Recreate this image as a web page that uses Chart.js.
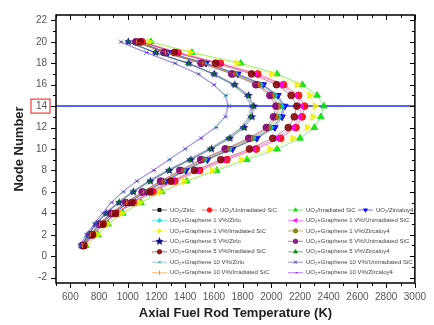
<!DOCTYPE html>
<html>
<head>
<meta charset="utf-8">
<script src="https://cdn.jsdelivr.net/npm/chart.js@4/dist/chart.umd.min.js"></script>
<style>
  html, body { margin: 0; padding: 0; background: #fff; }
  #temps { display: block; }
</style>
</head>
<body>
<canvas id="temps" width="434" height="325"></canvas>
<script>
// axial nodes (bottom to top)
const nodes = [1, 2, 3, 4, 5, 6, 7, 8, 9, 10, 11, 12, 13, 14, 15, 16, 17, 18, 19, 20];

// fuel rod temperature per node (K)
const tUO2Zirlo        = [688, 742, 810, 895, 1003, 1122, 1255, 1395, 1545, 1718, 1888, 2012, 2064, 2085, 2038, 1935, 1758, 1538, 1272, 1066];
const tUO2UnirrSiC     = [698, 762, 838, 928, 1045, 1176, 1328, 1500, 1690, 1895, 2065, 2172, 2215, 2232, 2190, 2085, 1905, 1645, 1350, 1100];
const tUO2IrrSiC       = [710, 792, 862, 966, 1092, 1236, 1410, 1620, 1830, 2040, 2200, 2300, 2345, 2366, 2319, 2217, 2040, 1787, 1447, 1160];
const tUO2Zry4         = [690, 745, 815, 900, 1010, 1130, 1265, 1405, 1555, 1730, 1900, 2025, 2075, 2094, 2046, 1944, 1767, 1545, 1280, 1072];
const tG1Zirlo         = [686, 740, 806, 890, 996, 1115, 1246, 1384, 1532, 1705, 1872, 1996, 2050, 2070, 2024, 1922, 1748, 1528, 1265, 1060];
const tG1UnirrSiC      = [696, 758, 832, 920, 1035, 1165, 1312, 1482, 1670, 1872, 2040, 2150, 2195, 2212, 2170, 2066, 1888, 1630, 1338, 1094];
const tG1IrrSiC        = [705, 786, 854, 956, 1080, 1222, 1392, 1590, 1790, 1990, 2150, 2250, 2290, 2305, 2268, 2180, 2003, 1760, 1435, 1147];
const tG1Zry4          = [684, 737, 802, 884, 990, 1106, 1236, 1372, 1518, 1690, 1855, 1978, 2030, 2048, 2004, 1905, 1735, 1518, 1258, 1058];
const tG5Zirlo         = [680, 725, 780, 850, 940, 1040, 1158, 1290, 1440, 1583, 1712, 1812, 1866, 1878, 1842, 1746, 1603, 1426, 1195, 1004];
const tG5UnirrSiC      = [683, 736, 800, 880, 985, 1100, 1228, 1362, 1508, 1678, 1842, 1965, 2015, 2032, 1990, 1892, 1724, 1510, 1252, 1056];
const tG5IrrSiC        = [694, 755, 828, 914, 1028, 1155, 1300, 1465, 1648, 1848, 2010, 2118, 2160, 2178, 2138, 2036, 1862, 1612, 1325, 1088];
const tG5Zry4          = [679, 723, 777, 846, 935, 1034, 1150, 1282, 1430, 1572, 1700, 1800, 1855, 1868, 1832, 1738, 1596, 1420, 1190, 1001];
const tG10Zirlo        = [668, 712, 768, 825, 885, 968, 1062, 1180, 1290, 1400, 1510, 1615, 1680, 1705, 1682, 1600, 1492, 1328, 1130, 950];
const tG10UnirrSiC     = [677, 721, 774, 842, 930, 1028, 1142, 1272, 1420, 1562, 1690, 1790, 1845, 1858, 1822, 1728, 1588, 1412, 1184, 998];
const tG10IrrSiC       = [685, 739, 804, 887, 993, 1110, 1240, 1378, 1525, 1698, 1862, 1985, 2038, 2055, 2012, 1912, 1740, 1522, 1262, 1062];
const tG10Zry4         = [666, 710, 765, 822, 882, 964, 1058, 1174, 1284, 1394, 1503, 1608, 1674, 1700, 1676, 1594, 1486, 1322, 1124, 945];

const xTickValues = [600, 800, 1000, 1200, 1400, 1600, 1800, 2000, 2200, 2400, 2600, 2800, 3000];
const yTickValues = [-2, 0, 2, 4, 6, 8, 10, 12, 14, 16, 18, 20, 22];
const markedNode = 14;

function rgba(hex, a) {
  const n = parseInt(hex.slice(1), 16);
  return `rgba(${n >> 16},${(n >> 8) & 255},${n & 255},${a})`;
}

// filled five point star, used as a point image
function starMarker(color, r) {
  const c = document.createElement('canvas');
  c.width = c.height = Math.ceil(2 * r + 2);
  const g = c.getContext('2d');
  const cx = c.width / 2, cy = c.height / 2;
  g.beginPath();
  for (let i = 0; i < 10; i++) {
    const rad = i % 2 ? r * 0.45 : r;
    const a = -Math.PI / 2 + i * Math.PI / 5;
    g.lineTo(cx + rad * Math.cos(a), cy + rad * Math.sin(a));
  }
  g.closePath();
  g.fillStyle = color;
  g.fill();
  return c;
}

const series = [
  { label: 'UO₂/Zirlo', temps: tUO2Zirlo, color: '#000000', style: 'rect', r: 2.6 },
  { label: 'UO₂/Unirradiated SiC', temps: tUO2UnirrSiC, color: '#ff0000', style: 'circle', r: 3.4 },
  { label: 'UO₂/Irradiated SiC', temps: tUO2IrrSiC, color: '#00e000', style: 'triangle', r: 3.8 },
  { label: 'UO₂/Zircaloy4', temps: tUO2Zry4, color: '#0000ff', style: 'triangle', rot: 180, r: 3.8 },
  { label: 'UO₂+Graphene 1 V%/Zirlo', temps: tG1Zirlo, color: '#00e0e0', style: 'rectRot', r: 3.2 },
  { label: 'UO₂+Graphene 1 V%/Unirradiated SiC', temps: tG1UnirrSiC, color: '#ff00ff', style: 'triangle', rot: 270, r: 3.4 },
  { label: 'UO₂+Graphene 1 V%/Irradiated SiC', temps: tG1IrrSiC, color: '#f0f000', style: 'triangle', rot: 90, r: 3.8 },
  { label: 'UO₂+Graphene 1 V%/Zircaloy4', temps: tG1Zry4, color: '#808000', style: 'circle', r: 3.2 },
  { label: 'UO₂+Graphene 5 V%/Zirlo', temps: tG5Zirlo, color: '#000080', style: 'star', r: 4.4 },
  { label: 'UO₂+Graphene 5 V%/Unirradiated SiC', temps: tG5UnirrSiC, color: '#800080', style: 'circle', r: 3.4 },
  { label: 'UO₂+Graphene 5 V%/Irradiated SiC', temps: tG5IrrSiC, color: '#800000', style: 'circle', r: 3.4 },
  { label: 'UO₂+Graphene 5 V%/Zircaloy4', temps: tG5Zry4, color: '#008000', style: 'triangle', r: 2.4 },
  { label: 'UO₂+Graphene 10 V%/Zirlo', temps: tG10Zirlo, color: '#40a0a0', style: 'crossRot', r: 3.2 },
  { label: 'UO₂+Graphene 10 V%/Unirradiated SiC', temps: tG10UnirrSiC, color: '#3030c0', style: 'crossRot', r: 2.2 },
  { label: 'UO₂+Graphene 10 V%/Irradiated SiC', temps: tG10IrrSiC, color: '#ff8000', style: 'line', rot: 90, r: 2.4 },
  { label: 'UO₂+Graphene 10 V%/Zircaloy4', temps: tG10Zry4, color: '#8000ff', style: 'dash', r: 3 }
];

const datasets = series.map((s, i) => ({
  label: s.label,
  data: nodes.map((n, k) => ({ x: s.temps[k], y: n })),
  showLine: true,
  borderColor: rgba(s.color, 0.45),
  borderWidth: 1,
  pointStyle: s.style === 'star' ? starMarker(rgba(s.color, 0.95), s.r) : s.style,
  pointRotation: s.rot || 0,
  pointRadius: s.r,
  pointBackgroundColor: rgba(s.color, 0.85),
  pointBorderColor: rgba(s.color, 0.85),
  pointBorderWidth: 1,
  order: series.length - i
}));

const FONT = '"Liberation Sans", Arial, sans-serif';

const decorations = {
  id: 'decorations',
  beforeDatasetsDraw(chart) {
    const { ctx, chartArea: a, scales: { y } } = chart;
    const py = y.getPixelForValue(markedNode);
    ctx.save();
    ctx.strokeStyle = '#1f2fff';
    ctx.lineWidth = 1.5;
    ctx.beginPath();
    ctx.moveTo(a.left, py);
    ctx.lineTo(a.right, py);
    ctx.stroke();
    ctx.restore();
  },
  afterDraw(chart) {
    const { ctx, chartArea: a, scales: { x, y } } = chart;
    ctx.save();
    ctx.strokeStyle = '#000';
    ctx.lineWidth = 1;
    ctx.beginPath();
    // x ticks: outward on bottom, inward on top
    for (let v = 500; v <= 3000; v += 100) {
      const px = Math.round(x.getPixelForValue(v)) + 0.5;
      const len = v % 200 === 0 ? 5 : 3;
      ctx.moveTo(px, a.bottom); ctx.lineTo(px, a.bottom + len);
      ctx.moveTo(px, a.top); ctx.lineTo(px, a.top + len);
    }
    // y ticks: outward on left, inward on right
    for (let v = -2; v <= 22; v += 1) {
      const py = Math.round(y.getPixelForValue(v)) + 0.5;
      const len = v % 2 === 0 ? 5 : 3;
      ctx.moveTo(a.left, py); ctx.lineTo(a.left - len, py);
      ctx.moveTo(a.right, py); ctx.lineTo(a.right - len, py);
    }
    ctx.stroke();
    ctx.lineWidth = 1.5;
    ctx.strokeRect(a.left, a.top, a.right - a.left, a.bottom - a.top);

    // box round the marked node label
    const py = y.getPixelForValue(markedNode);
    ctx.strokeStyle = '#ff3b3b';
    ctx.lineWidth = 1.2;
    ctx.strokeRect(31, py - 7, 19, 14);

    // legend
    const rows = [[0, 1, 2, 3], [4, 5], [6, 7], [8, 9], [10, 11], [12, 13], [14, 15]];
    const colsRow1 = [152, 202, 288, 358];
    const colsRest = [152, 288];
    ctx.font = '6px ' + FONT;
    ctx.textBaseline = 'middle';
    ctx.textAlign = 'left';
    rows.forEach((row, r) => {
      const ly = 210 + r * 10.45;
      const cols = r === 0 ? colsRow1 : colsRest;
      row.forEach((idx, c) => {
        const lx = cols[c];
        const ds = chart.data.datasets[idx];
        ctx.strokeStyle = ds.borderColor;
        ctx.lineWidth = 1.2;
        ctx.beginPath();
        ctx.moveTo(lx, ly);
        ctx.lineTo(lx + 15, ly);
        ctx.stroke();
        ctx.fillStyle = ds.pointBackgroundColor;
        ctx.strokeStyle = ds.pointBorderColor;
        ctx.lineWidth = 1;
        Chart.helpers.drawPoint(ctx, {
          pointStyle: ds.pointStyle,
          rotation: ds.pointRotation,
          radius: Math.min(ds.pointRadius, 2.2),
          borderWidth: 1
        }, lx + 7.5, ly);
        ctx.fillStyle = '#444';
        ctx.fillText(ds.label, lx + 18, ly);
      });
    });
    ctx.restore();
  }
};

new Chart(document.getElementById('temps'), {
  type: 'scatter',
  data: { datasets },
  options: {
    responsive: false,
    animation: false,
    devicePixelRatio: 1,
    layout: { padding: { top: 10, right: 11, left: 0, bottom: 0 } },
    plugins: { legend: { display: false }, tooltip: { enabled: false } },
    scales: {
      x: {
        type: 'linear',
        min: 500,
        max: 3000,
        grid: { display: false, drawTicks: false },
        border: { display: false },
        afterBuildTicks: (axis) => { axis.ticks = xTickValues.map(v => ({ value: v })); },
        afterFit: (axis) => { axis.height = 42; },
        ticks: {
          color: '#555', font: { family: FONT, size: 10 }, padding: 8, maxRotation: 0, autoSkip: false,
          callback: (v) => String(v)
        },
        title: {
          display: true,
          text: 'Axial Fuel Rod Temperature (K)',
          color: '#222',
          font: { family: FONT, size: 13, weight: 'bold' },
          padding: { top: 0, bottom: 4 }
        }
      },
      y: {
        type: 'linear',
        min: -2.5,
        max: 22.5,
        grid: { display: false, drawTicks: false },
        border: { display: false },
        afterBuildTicks: (axis) => { axis.ticks = yTickValues.map(v => ({ value: v })); },
        afterFit: (axis) => { axis.width = 56; },
        ticks: { color: '#555', font: { family: FONT, size: 10 }, padding: 9, autoSkip: false, callback: (v) => String(v) },
        title: {
          display: true,
          text: 'Node Number',
          color: '#222',
          font: { family: FONT, size: 13, weight: 'bold' },
          padding: { top: 12, bottom: 0 }
        }
      }
    }
  },
  plugins: [decorations]
});
</script>
</body>
</html>
